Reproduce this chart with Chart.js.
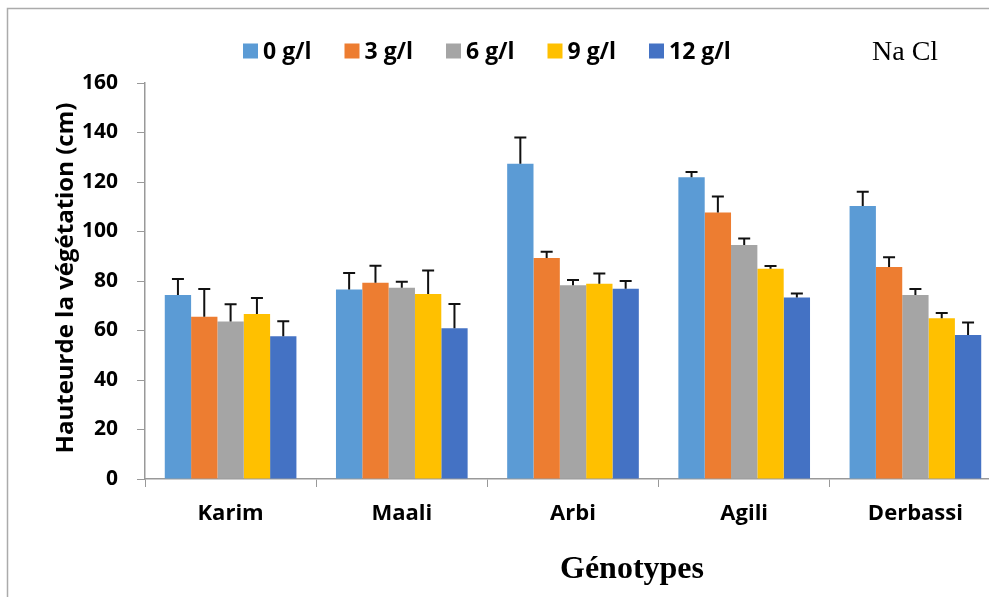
<!DOCTYPE html>
<html>
<head>
<meta charset="utf-8">
<script src="https://cdn.jsdelivr.net/npm/chart.js@4"></script>
<style>
  html, body { margin: 0; padding: 0; background: #fff; overflow: hidden; }
  #wrap { width: 1005px; height: 597px; }
</style>
</head>
<body>
<div id="wrap"><canvas id="c" width="1005" height="597"></canvas></div>
<script>
// Genotypes on the x axis
const genotypes = ['Karim', 'Maali', 'Arbi', 'Agili', 'Derbassi'];

// NaCl concentrations (one series each)
const seriesLabels = ['0 g/l', '3 g/l', '6 g/l', '9 g/l', '12 g/l'];
const seriesColors = ['#5B9BD5', '#ED7D31', '#A5A5A5', '#FFC000', '#4472C4'];

// Mean plant height (cm) per genotype
const height0  = [74.3, 76.6, 127.4, 121.9, 110.3];
const height3  = [65.6, 79.3, 89.3, 107.7, 85.7];
const height6  = [63.6, 77.3, 78.3, 94.5, 74.3];
const height9  = [66.7, 74.7, 78.9, 85.0, 64.9];
const height12 = [57.7, 60.9, 76.9, 73.3, 58.2];

// Standard errors (upper bars)
const err0  = [6.5, 6.6, 10.6, 2.1, 5.8];
const err3  = [11.2, 6.9, 2.5, 6.4, 3.9];
const err6  = [7.0, 2.4, 2.1, 2.7, 2.5];
const err9  = [6.4, 9.5, 4.1, 1.1, 2.2];
const err12 = [6.0, 9.8, 3.1, 1.6, 5.0];

// Y axis range and step
const yMin = 0, yMax = 160, yStep = 20;

const yTitle = 'Hauteurde la végétation (cm)';
const xTitle = 'Génotypes';
const note = 'Na Cl';

const heights = [height0, height3, height6, height9, height12];
const errors = [err0, err3, err6, err9, err12];

const datasets = seriesLabels.map((label, i) => ({
  label,
  data: heights[i],
  errors: errors[i],
  backgroundColor: seriesColors[i],
  borderWidth: 0,
  barPercentage: 1.0,
  categoryPercentage: 0.769
}));

// Upper error bars with caps
const errorBars = {
  id: 'errorBars',
  afterDatasetsDraw(chart) {
    const ctx = chart.ctx;
    const y = chart.scales.y;
    ctx.save();
    ctx.strokeStyle = '#111';
    ctx.lineWidth = 2;
    chart.data.datasets.forEach((ds, di) => {
      const meta = chart.getDatasetMeta(di);
      meta.data.forEach((bar, j) => {
        const top = y.getPixelForValue(ds.data[j] + ds.errors[j]);
        ctx.beginPath();
        ctx.moveTo(bar.x, bar.y);
        ctx.lineTo(bar.x, top);
        ctx.moveTo(bar.x - 6, top);
        ctx.lineTo(bar.x + 6, top);
        ctx.stroke();
      });
    });
    ctx.restore();
  }
};

// Frame, legend row, "Na Cl" note and axis titles
const decorations = {
  id: 'decorations',
  beforeDraw(chart) {
    const ctx = chart.ctx;
    ctx.save();
    ctx.fillStyle = '#fff';
    ctx.fillRect(0, 0, chart.width, chart.height);
    ctx.strokeStyle = '#ABABAB';
    ctx.lineWidth = 1.5;
    ctx.strokeRect(7.5, 8.5, chart.width + 20, chart.height + 20);
    ctx.restore();
  },
  afterDraw(chart) {
    const ctx = chart.ctx;
    const area = chart.chartArea;
    ctx.save();
    // legend
    ctx.font = 'bold 23px "Open Sans"';
    ctx.textBaseline = 'middle';
    ctx.textAlign = 'left';
    let x = 243;
    const cy = 51;
    chart.data.datasets.forEach((ds) => {
      ctx.fillStyle = ds.backgroundColor;
      ctx.fillRect(x, cy - 7.5, 15, 15);
      ctx.fillStyle = '#000';
      ctx.fillText(ds.label, x + 20, cy + 1);
      x += 101.5;
    });
    // NaCl note
    ctx.font = '28px "Liberation Serif"';
    ctx.textBaseline = 'alphabetic';
    ctx.fillText(note, 872, 60);
    // x-axis title
    ctx.font = 'bold 32px "Liberation Serif"';
    ctx.textAlign = 'center';
    ctx.fillText(xTitle, 632, 578);
    // y-axis title
    ctx.font = 'bold 24px "Open Sans"';
    ctx.translate(73, (area.top + area.bottom) / 2 - 3);
    ctx.rotate(-Math.PI / 2);
    ctx.fillText(yTitle, 0, 0);
    ctx.restore();
  }
};

new Chart(document.getElementById('c'), {
  type: 'bar',
  data: { labels: genotypes, datasets },
  plugins: [decorations, errorBars],
  options: {
    responsive: false,
    animation: false,
    layout: { padding: { top: 83, right: 4, bottom: 0, left: 0 } },
    plugins: { legend: { display: false }, tooltip: { enabled: false } },
    scales: {
      x: {
        grid: { display: true, drawOnChartArea: false, drawTicks: true, tickLength: 8, color: '#999', offset: true },
        border: { display: true, color: '#999', width: 1.5 },
        ticks: { color: '#000', font: { family: 'Open Sans', weight: 'bold', size: 22 }, padding: 14, maxRotation: 0 },
        afterFit(scale) { scale.height = 118; }
      },
      y: {
        min: yMin, max: yMax,
        ticks: { stepSize: yStep, color: '#000', font: { family: 'Open Sans', weight: 'bold', size: 21 }, padding: 19 },
        grid: { display: true, drawOnChartArea: false, drawTicks: true, tickLength: 8, color: '#999' },
        border: { display: true, color: '#999', width: 1.5 },
        title: { display: false },
        afterFit(scale) { scale.width = 145; }
      }
    }
  }
});
</script>
</body>
</html>
